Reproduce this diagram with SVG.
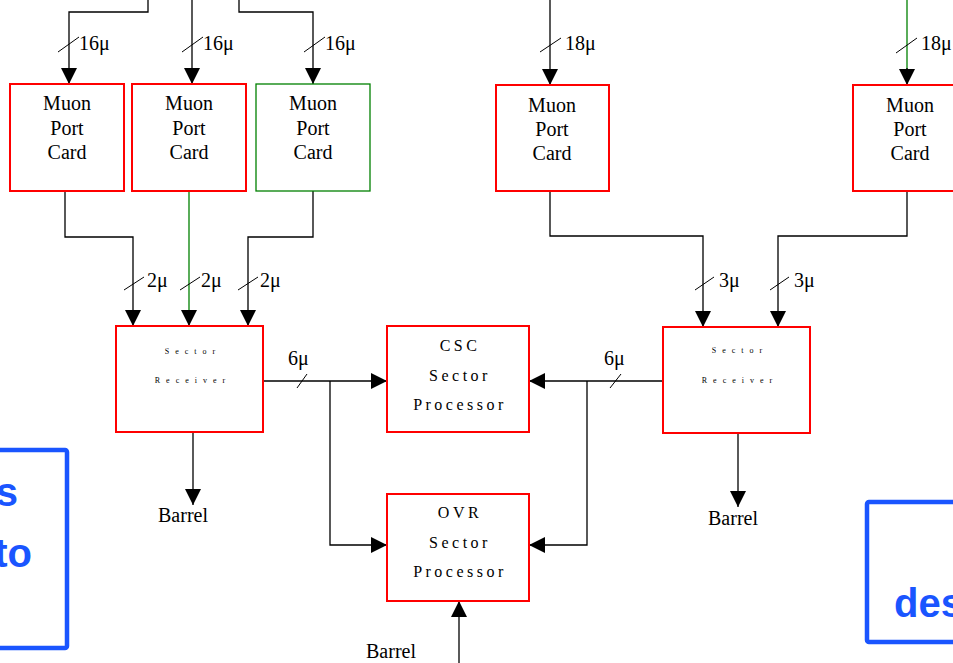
<svg xmlns="http://www.w3.org/2000/svg" width="953" height="663" viewBox="0 0 953 663">
<defs>
<marker id="ah" markerWidth="16" markerHeight="16" refX="16" refY="8" orient="auto" markerUnits="userSpaceOnUse">
<path d="M0,0 L16,8 L0,16 Z" fill="#000"/>
</marker>
<style>
.box{fill:#fff;stroke:#ff0000;stroke-width:2}
.gbox{fill:#fff;stroke:#008000;stroke-width:1.3}
.ln{fill:none;stroke:#000;stroke-width:1.3}
.gln{fill:none;stroke:#008000;stroke-width:1.3}
.sl{stroke:#000;stroke-width:1}
.t{font-family:"Liberation Serif",serif;font-size:20px;fill:#000}
.m{font-family:"Liberation Serif",serif;font-size:20px;fill:#000;text-anchor:middle}
.sr{font-family:"Liberation Serif",serif;font-size:8px;fill:#000;text-anchor:middle;letter-spacing:6px}
.sp{font-family:"Liberation Serif",serif;font-size:16px;fill:#000;text-anchor:middle;letter-spacing:3.5px}
.blue{fill:none;stroke:#1a55ff;stroke-width:4.5}
.bt{font-family:"Liberation Sans",sans-serif;font-weight:bold;font-size:40px;fill:#1a55ff}
</style>
</defs>
<rect width="953" height="663" fill="#fff"/>

<g id="connectors">
<path class="ln" d="M148,0 V12 H69 V84" marker-end="url(#ah)"/>
<path class="ln" d="M192,0 V84" marker-end="url(#ah)"/>
<path class="ln" d="M239,0 V12 H313 V84" marker-end="url(#ah)"/>
<path class="ln" d="M550,0 V85" marker-end="url(#ah)"/>
<path class="gln" d="M907,0 V70"/>
<path class="ln" d="M907,68 V85" marker-end="url(#ah)"/>
<line class="sl" x1="58" y1="52" x2="79" y2="37"/>
<line class="sl" x1="182" y1="52" x2="203" y2="37"/>
<line class="sl" x1="304" y1="52" x2="325" y2="37"/>
<line class="sl" x1="540" y1="52" x2="561" y2="38"/>
<line class="sl" x1="896" y1="53" x2="917" y2="38"/>
<text class="t" x="79" y="50">16μ</text>
<text class="t" x="203" y="50">16μ</text>
<text class="t" x="325" y="50">16μ</text>
<text class="t" x="565" y="50">18μ</text>
<text class="t" x="921" y="50">18μ</text>

<path class="ln" d="M65,191 V237 H133 V326" marker-end="url(#ah)"/>
<path class="gln" d="M189,191 V312"/>
<path class="ln" d="M189,310 V326" marker-end="url(#ah)"/>
<path class="ln" d="M313,191 V237 H248 V326" marker-end="url(#ah)"/>
<line class="sl" x1="124" y1="290" x2="144" y2="277"/>
<line class="sl" x1="180" y1="290" x2="200" y2="277"/>
<line class="sl" x1="238" y1="290" x2="258" y2="277"/>
<text class="t" x="147" y="287">2μ</text>
<text class="t" x="201" y="287">2μ</text>
<text class="t" x="260" y="287">2μ</text>

<path class="ln" d="M550,191 V236 H703 V327" marker-end="url(#ah)"/>
<path class="ln" d="M907,191 V236 H778 V327" marker-end="url(#ah)"/>
<line class="sl" x1="695" y1="290" x2="714" y2="277"/>
<line class="sl" x1="770" y1="290" x2="789" y2="277"/>
<text class="t" x="719" y="287">3μ</text>
<text class="t" x="794" y="287">3μ</text>

<path class="ln" d="M263,381 H387" marker-end="url(#ah)"/>
<path class="ln" d="M330,381 V545 H387" marker-end="url(#ah)"/>
<line class="sl" x1="297" y1="388" x2="307" y2="374"/>
<text class="t" x="288" y="365">6μ</text>

<path class="ln" d="M663,381 H529" marker-end="url(#ah)"/>
<path class="ln" d="M587,381 V545 H529" marker-end="url(#ah)"/>
<line class="sl" x1="610" y1="388" x2="621" y2="374"/>
<text class="t" x="604" y="365">6μ</text>

<path class="ln" d="M193,432 V505" marker-end="url(#ah)"/>
<path class="ln" d="M738,432 V507" marker-end="url(#ah)"/>
<path class="ln" d="M459,663 V601" marker-end="url(#ah)"/>
<text class="m" x="183" y="522">Barrel</text>
<text class="m" x="733" y="525">Barrel</text>
<text class="m" x="391" y="658">Barrel</text>
</g>

<g id="mpc1"><rect class="box" x="10" y="84" width="114" height="107"/>
<text class="m" x="67" y="110">Muon</text><text class="m" x="67" y="135">Port</text><text class="m" x="67" y="159">Card</text></g>
<g id="mpc2"><rect class="box" x="132" y="84" width="114" height="107"/>
<text class="m" x="189" y="110">Muon</text><text class="m" x="189" y="135">Port</text><text class="m" x="189" y="159">Card</text></g>
<g id="mpc3"><rect class="gbox" x="256" y="84" width="114" height="107"/>
<text class="m" x="313" y="110">Muon</text><text class="m" x="313" y="135">Port</text><text class="m" x="313" y="159">Card</text></g>
<g id="mpc4"><rect class="box" x="496" y="85" width="113" height="106"/>
<text class="m" x="552" y="112">Muon</text><text class="m" x="552" y="136">Port</text><text class="m" x="552" y="160">Card</text></g>
<g id="mpc5"><rect class="box" x="853" y="85" width="113" height="106"/>
<text class="m" x="910" y="112">Muon</text><text class="m" x="910" y="136">Port</text><text class="m" x="910" y="160">Card</text></g>

<g id="sr1"><rect class="box" x="116" y="326" width="147" height="106"/>
<text class="sr" x="193" y="354">Sector</text><text class="sr" x="193" y="383">Receiver</text></g>
<g id="sr2"><rect class="box" x="663" y="327" width="147" height="106"/>
<text class="sr" x="740" y="353">Sector</text><text class="sr" x="740" y="383">Receiver</text></g>

<g id="csc"><rect class="box" x="387" y="326" width="142" height="106"/>
<text class="sp" x="460" y="351">CSC</text><text class="sp" x="460" y="381">Sector</text><text class="sp" x="460" y="410">Processor</text></g>
<g id="ovr"><rect class="box" x="387" y="494" width="142" height="107"/>
<text class="sp" x="460" y="518">OVR</text><text class="sp" x="460" y="548">Sector</text><text class="sp" x="460" y="577">Processor</text></g>

<g id="blue-left"><rect class="blue" x="-20" y="450" width="87" height="198" rx="2"/>
<text class="bt" x="18" y="506" text-anchor="end">s</text>
<text class="bt" x="32" y="567" text-anchor="end">to</text></g>
<g id="blue-right"><rect class="blue" x="867" y="502" width="120" height="140" rx="2"/>
<text class="bt" x="894" y="617">des</text></g>
</svg>
